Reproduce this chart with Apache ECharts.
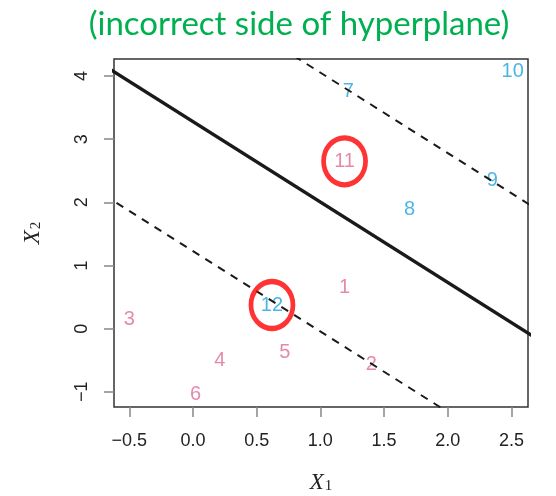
<!DOCTYPE html>
<html>
<head>
<meta charset="utf-8">
<script src="https://cdn.jsdelivr.net/npm/echarts@6/dist/echarts.min.js"></script>
<style>
  html, body { margin: 0; padding: 0; background: #fff; }
  #chart { width: 556px; height: 496px; }
</style>
</head>
<body>
<div id="chart"></div>
<script>
// Observation numbers, coordinates and class of each observation
const ids   = [1, 2, 3, 4, 5, 6, 7, 8, 9, 10, 11, 12];
const x1    = [1.19, 1.40, -0.50, 0.21, 0.72, 0.02, 1.22, 1.70, 2.35, 2.51, 1.19, 0.62];
const x2    = [0.66, -0.57, 0.14, -0.51, -0.38, -1.04, 3.76, 1.88, 2.34, 4.07, 2.65, 0.375];
const cls   = ['pink', 'pink', 'pink', 'pink', 'pink', 'pink', 'blue', 'blue', 'blue', 'blue', 'pink', 'blue'];

// Observations on the incorrect side of the hyperplane (circled)
const flagged = [11, 12];

// Separating hyperplane and margins, as end points [x1, x2]
const hyperplane  = [[-0.70, 4.17], [2.70, -0.16]];
const marginUpper = [[-0.70, 6.22], [2.70, 1.89]];
const marginLower = [[-0.70, 2.12], [2.70, -2.21]];

// Axis ranges and tick positions
const xRange = [-0.62, 2.63];
const yRange = [-1.24, 4.27];
const xTicks = [-0.5, 0, 0.5, 1, 1.5, 2, 2.5];
const yTicks = [-1, 0, 1, 2, 3, 4];

const PINK = '#DE6B97';
const BLUE = '#1FA3DE';

function pointsOf(colour) {
  const out = [];
  ids.forEach((id, i) => { if (cls[i] === colour) out.push([x1[i], x2[i], id]); });
  return out;
}
const circled = flagged.map(id => { const i = ids.indexOf(id); return [x1[i], x2[i]]; });

const fmtNum = (v, d) => {
  const s = Math.abs(v).toFixed(d);
  return v < 0 ? '\u2212' + s : s;
};

const tickFont = { fontFamily: 'Liberation Sans', fontSize: 18, color: '#222' };

function labelSeries(colour, data) {
  return {
    type: 'scatter',
    data: data,
    symbolSize: 0,
    silent: true,
    label: {
      show: true,
      position: 'inside',
      formatter: p => String(p.value[2]),
      fontFamily: 'Liberation Sans',
      fontSize: 20,
      color: colour
    },
    z: 2
  };
}

function lineSeries(data, width, type) {
  return {
    type: 'line',
    data: data,
    symbol: 'none',
    silent: true,
    clip: true,
    lineStyle: { color: '#1a1a1a', width: width, type: type },
    z: 3
  };
}

const nameRich = {
  i: { fontFamily: 'Liberation Serif', fontStyle: 'italic', fontSize: 23, color: '#222' },
  s: { fontFamily: 'Liberation Serif', fontSize: 15, color: '#222', verticalAlign: 'bottom', padding: [8, 0, 0, 1] }
};

const chart = echarts.init(document.getElementById('chart'), null, { renderer: 'canvas' });
chart.setOption({
  animation: false,
  backgroundColor: '#fff',
  title: {
    text: '(incorrect side of hyperplane)',
    left: 294,
    top: 3,
    textAlign: 'center',
    textStyle: { fontFamily: 'Lato', fontWeight: 'normal', fontSize: 33, color: '#00B050' }
  },
  grid: {
    left: 114, top: 59, right: 28, bottom: 89,
    outerBoundsMode: 'none',
    containLabel: false,
    show: true, borderColor: '#333', borderWidth: 1.5, backgroundColor: 'transparent'
  },
  xAxis: {
    type: 'value',
    min: xRange[0], max: xRange[1],
    splitLine: { show: false },
    axisLine: { show: false, onZero: false },
    axisTick: { show: true, length: 10, lineStyle: { color: '#888', width: 1.5 }, customValues: xTicks },
    axisLabel: Object.assign({ margin: 25, customValues: xTicks, formatter: v => fmtNum(v, 1) }, tickFont),
    name: '{i|X}{s|1}',
    nameLocation: 'middle',
    nameGap: 64,
    nameTextStyle: { rich: nameRich }
  },
  yAxis: {
    type: 'value',
    min: yRange[0], max: yRange[1],
    splitLine: { show: false },
    axisLine: { show: false, onZero: false },
    axisTick: { show: true, length: 10, lineStyle: { color: '#888', width: 1.5 }, customValues: yTicks },
    axisLabel: Object.assign({ margin: 23, rotate: 90, customValues: yTicks, formatter: v => fmtNum(v, 0) }, tickFont),
    name: '{i|X}{s|2}',
    nameLocation: 'middle',
    nameGap: 70,
    nameRotate: 90,
    nameTextStyle: { rich: nameRich }
  },
  series: [
    labelSeries(PINK, pointsOf('pink')),
    labelSeries(BLUE, pointsOf('blue')),
    lineSeries(hyperplane, 3.5, 'solid'),
    lineSeries(marginUpper, 2, [8, 7]),
    lineSeries(marginLower, 2, [8, 7]),
    {
      type: 'scatter',
      data: circled,
      symbol: 'circle',
      symbolSize: [42, 47],
      silent: true,
      itemStyle: { color: 'rgba(0,0,0,0)', borderColor: '#FF0000', borderWidth: 5 },
      z: 4
    }
  ]
});
</script>
</body>
</html>
